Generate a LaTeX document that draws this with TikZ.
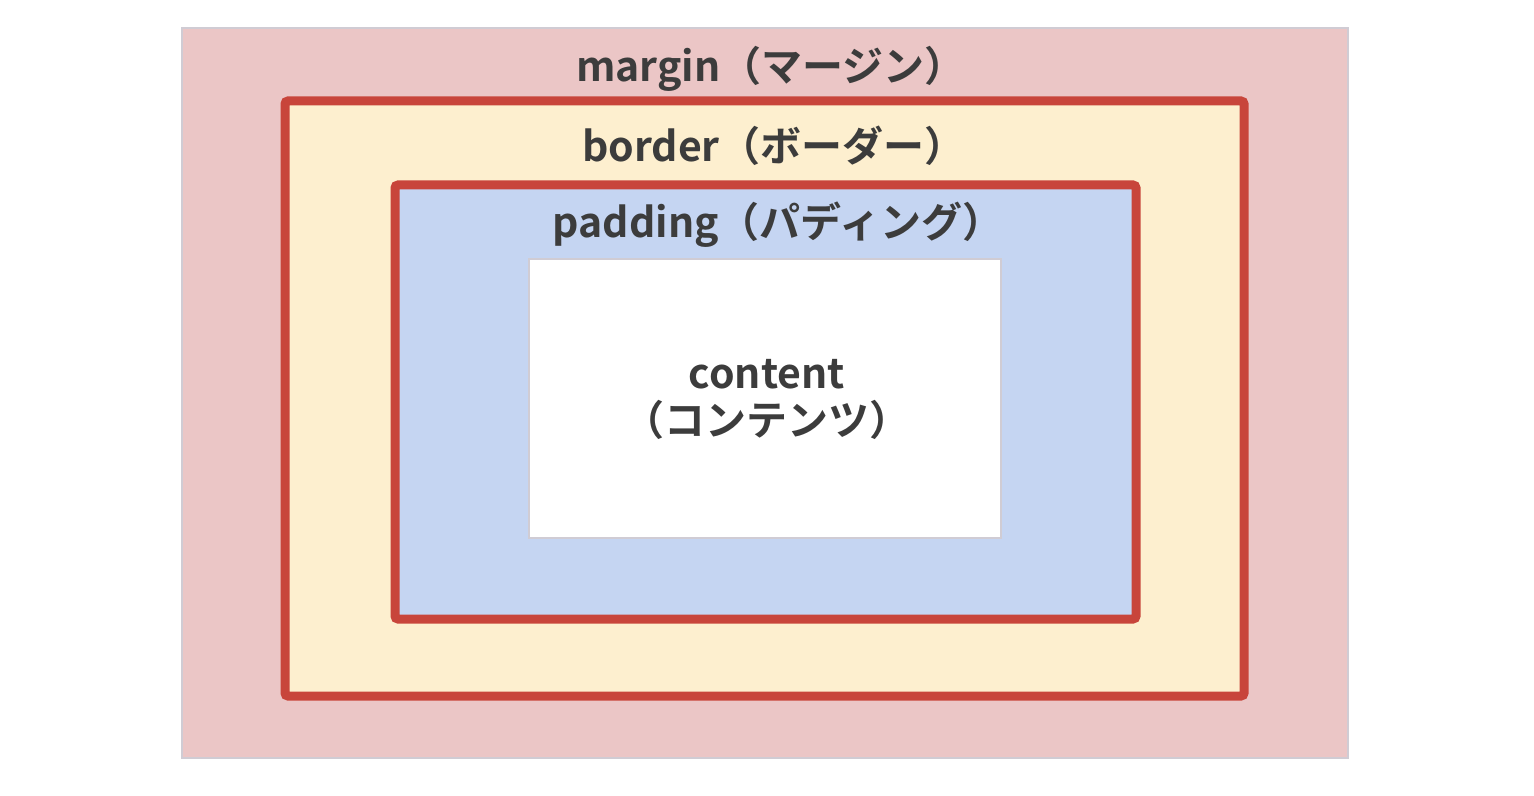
\documentclass[tikz,border=0pt]{standalone}
\usepackage{fontspec}
\setmainfont{Noto Sans CJK JP}[BoldFont={* Bold}]
\usepackage{tikz}
\usepackage{xcolor}
\usetikzlibrary{
    positioning
}
\definecolor{bxRed}{RGB}{200,69,59}
\definecolor{bxPink}{RGB}{235,198,198}
\definecolor{bxCream}{RGB}{253,239,207}
\definecolor{bxBlue}{RGB}{197,213,242}
\definecolor{bxGray}{RGB}{208,204,212}
\definecolor{bxText}{RGB}{60,60,60}
\tikzset{
  mbox/.style   = {draw=bxGray, line width=0.8pt, fill=bxPink,
                   minimum width=583pt, minimum height=365pt, inner sep=0pt},
  bbox/.style   = {draw=bxRed, line width=4.5pt, rounded corners=1.5pt, fill=bxCream,
                   minimum width=479.5pt, minimum height=297.5pt, inner sep=0pt},
  pbox/.style   = {draw=bxRed, line width=4.5pt, rounded corners=1.5pt, fill=bxBlue,
                   minimum width=370.5pt, minimum height=217pt, inner sep=0pt},
  cbox/.style   = {draw=bxGray, line width=0.8pt, fill=white,
                   minimum width=236pt, minimum height=139.5pt, inner sep=0pt},
  lbl/.style    = {text=bxText, font=\fontsize{20.5}{23.5}\selectfont\bfseries,
                   inner sep=0pt, align=center}
}

\begin{document}
\begin{tikzpicture}[x=0.5pt, y=-0.5pt]
    \useasboundingbox (0,0) rectangle (1534,796);
    \node[mbox] (mg) at (765,393) {};
    \node[bbox] (bd) at (764.5,398.5) {};
    \node[pbox] (pd) at (765.5,402) {};
    \node[cbox] (ct) at (765,398.5) {};

    \node[lbl] (mgl) at (771,69) {margin（マージン）};
    \node[lbl] (bdl) at (774,146) {border（ボーダー）};
    \node[lbl] (pdl) at (778,225) {padding（パディング）};
    \node[lbl] (ctl) at (767,399) {content\\（コンテンツ）};
\end{tikzpicture}
\end{document}
